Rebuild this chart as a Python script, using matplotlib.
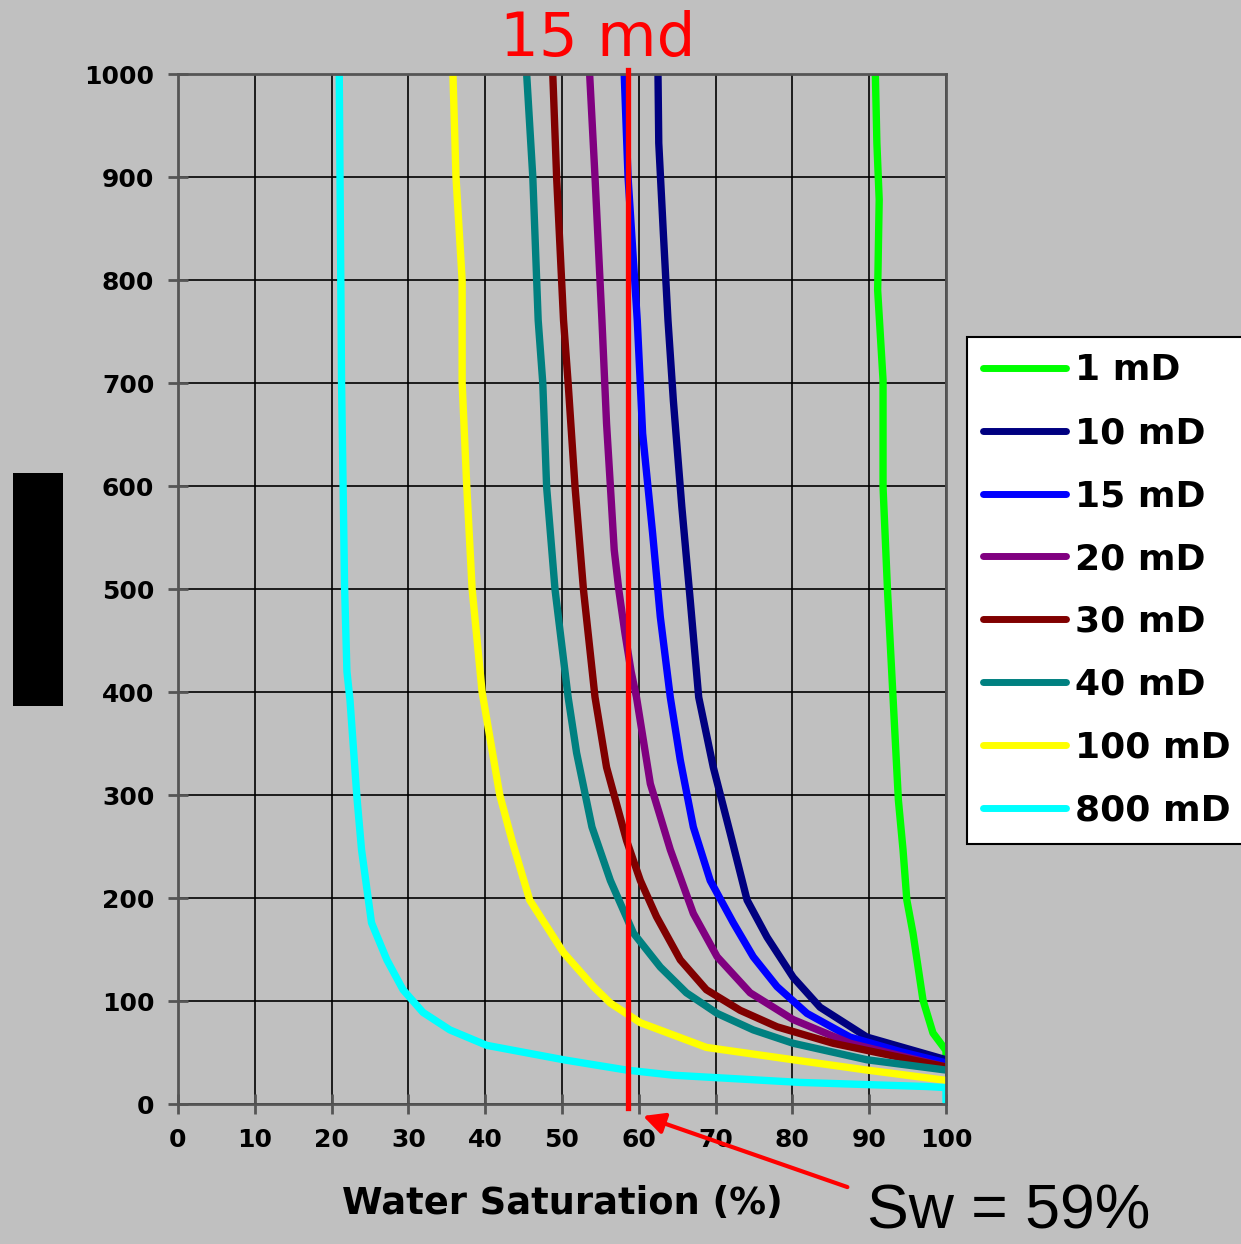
import matplotlib.pyplot as plt
from matplotlib.patches import Rectangle

# --- Data ---
sw_1 = [90.8, 91.0, 91.3, 91.1, 91.8, 91.8, 92.4, 93.1, 93.8, 94.4, 94.9, 95.7, 97.0, 98.3, 100, 100]
pc_1 = [1000, 933, 878, 790, 703, 599, 496, 395, 295, 247, 198, 166, 101, 69, 52, 43]

sw_10 = [62.5, 62.6, 63.2, 63.8, 64.5, 65.6, 66.7, 67.8, 69.7, 71.9, 74.1, 76.7, 80.1, 83.6, 89.7, 100]
pc_10 = [1000, 933, 845, 761, 683, 580, 489, 395, 327, 263, 198, 162, 123, 94, 65, 43]

sw_15 = [58.1, 58.6, 59.8, 60.5, 61.8, 62.8, 64.1, 65.4, 67.1, 69.3, 72.3, 74.9, 78.0, 81.9, 87.5, 94.0, 100]
pc_15 = [1000, 900, 761, 651, 554, 473, 395, 334, 269, 217, 176, 143, 114, 88, 65, 51, 40]

sw_20 = [53.6, 54.3, 55.2, 55.8, 56.3, 56.8, 57.4, 58.2, 59.0, 59.7, 61.5, 64.1, 67.1, 70.2, 74.5, 80.1, 87.5, 100]
pc_20 = [1000, 900, 761, 661, 600, 538, 499, 457, 420, 395, 311, 247, 185, 143, 108, 82, 59, 36]

sw_30 = [48.8, 49.3, 50.2, 50.8, 51.7, 52.8, 54.3, 55.8, 58.4, 60.2, 62.3, 65.4, 68.8, 73.2, 78.0, 85.3, 100]
pc_30 = [1000, 900, 761, 700, 599, 499, 395, 327, 256, 217, 182, 140, 111, 91, 75, 59, 36]

sw_40 = [45.4, 46.2, 46.9, 47.5, 48.0, 49.1, 50.8, 51.9, 53.9, 56.3, 59.3, 62.8, 66.2, 70.2, 74.9, 80.1, 89.7, 100]
pc_40 = [1000, 900, 761, 700, 599, 499, 395, 341, 269, 217, 166, 133, 108, 88, 72, 59, 43, 33]

sw_100 = [35.8, 36.2, 37.0, 37.0, 37.6, 38.3, 39.6, 41.9, 43.6, 45.8, 50.2, 54.1, 56.3, 60.2, 68.8, 80.1, 89.7, 100]
pc_100 = [1000, 900, 800, 700, 600, 500, 400, 300, 253, 198, 147, 114, 98, 79, 55, 43, 33, 23]

sw_800 = [21.0, 21.1, 21.3, 21.5, 21.7, 22.0, 22.4, 23.3, 23.9, 25.2, 27.2, 29.3, 31.9, 35.4,
          40.2, 50.2, 58.4, 64.5, 81.0, 97.5, 100, 100]
pc_800 = [1000, 900, 700, 600, 500, 420, 392, 298, 247, 176, 140, 111, 89, 72,
          57, 43, 33, 28, 21, 17, 16, 2]

labels = ["1 mD", "10 mD", "15 mD", "20 mD", "30 mD", "40 mD", "100 mD", "800 mD"]
colors = ["#00ff00", "#000080", "#0000ff", "#800080", "#800000", "#008080", "#ffff00", "#00ffff"]
sw_all = [sw_1, sw_10, sw_15, sw_20, sw_30, sw_40, sw_100, sw_800]
pc_all = [pc_1, pc_10, pc_15, pc_20, pc_30, pc_40, pc_100, pc_800]

sw_cut = 58.6
x_ticks = list(range(0, 101, 10))
y_ticks = list(range(0, 1001, 100))

bg = "#c0c0c0"
fig = plt.figure(figsize=(12.41, 12.44), dpi=100, facecolor=bg)
ax = fig.add_axes([0.1434, 0.1125, 0.6189, 0.828], facecolor=bg)

for sw, pc, lab, col in zip(sw_all, pc_all, labels, colors):
    ax.plot(sw, pc, color=col, lw=5.3, label=lab, solid_capstyle="round", solid_joinstyle="round")

# vertical cutoff line
ax.plot([sw_cut, sw_cut], [-4, 1004], color="red", lw=3.8, clip_on=False, zorder=5)

ax.set_xlim(0, 100)
ax.set_ylim(0, 1000)
ax.set_xticks(x_ticks)
ax.set_yticks(y_ticks)
ax.grid(True, color="black", lw=1.2)
ax.set_axisbelow(True)
for sp in ax.spines.values():
    sp.set_color("#555555")
    sp.set_linewidth(2)
ax.tick_params(direction="inout", length=14, width=2, color="#555555", labelsize=18, pad=10)
for t in ax.get_xticklabels() + ax.get_yticklabels():
    t.set_fontweight("bold")

ax.set_xlabel("Water Saturation (%)", fontsize=26.5, fontweight="bold", labelpad=24)

leg = ax.legend(loc="upper left", bbox_to_anchor=(0.779, 0.729), bbox_transform=fig.transFigure,
                prop={"size": 26, "weight": "bold"}, frameon=True, fancybox=False,
                edgecolor="black", facecolor="white", framealpha=1, borderaxespad=0,
                handlelength=2.3, handletextpad=0.25, labelspacing=0.8, borderpad=0.45)
leg.get_frame().set_linewidth(1.5)
for line in leg.get_lines():
    line.set_linewidth(5)

# redacted y label box
fig.patches.append(Rectangle((0.0105, 0.4325), 0.0403, 0.1873, transform=fig.transFigure,
                             facecolor="black", edgecolor="none"))

fig.text(0.482, 0.968, "15 md", color="red", fontsize=44, ha="center", va="center")
fig.text(0.813, 0.026, "Sw = 59%", color="black", fontsize=45, family="Liberation Sans",
         ha="center", va="center")
ax.annotate("", xy=(60.2, -10.7), xytext=(87.5, -81.5), xycoords="data",
            arrowprops=dict(arrowstyle="-|>", color="red", lw=3, mutation_scale=32),
            annotation_clip=False)

fig.savefig("out.png", dpi=100, facecolor=bg)
